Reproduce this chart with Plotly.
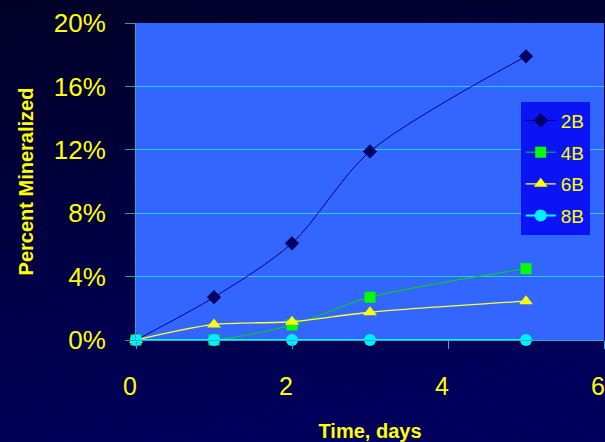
import base64
import plotly.graph_objects as go

days = [0, 1, 2, 3, 5]
series_names = ["2B", "4B", "6B", "8B"]
min_2b = [0.0, 0.027, 0.061, 0.119, 0.179]
min_4b = [0.0, 0.0, 0.0095, 0.027, 0.045]
min_6b = [0.0, 0.0098, 0.0115, 0.0175, 0.0245]
min_8b = [0.0, 0.0, 0.0, 0.0, 0.0]
y_ticks = [0, 0.04, 0.08, 0.12, 0.16, 0.20]

W, H = 605, 442
L, R, T, B = 136, 1, 23, 102
pw, ph = W - L - R, H - T - B

# dark gradient backdrop with faint diagonal hatching, plus the blue plot area
bg_svg = f"""<svg xmlns='http://www.w3.org/2000/svg' width='{W}' height='{H}'>
<defs>
<linearGradient id='g' x1='0' y1='0' x2='0.25' y2='1'>
<stop offset='0' stop-color='#000026'/><stop offset='1' stop-color='#00005c'/>
</linearGradient>
<pattern id='p' width='16' height='16' patternUnits='userSpaceOnUse' patternTransform='rotate(-35)'>
<line x1='0' y1='0' x2='16' y2='0' stroke='#000020' stroke-width='1' stroke-opacity='0.45'/>
</pattern>
</defs>
<rect width='{W}' height='{H}' fill='url(#g)'/>
<rect width='{W}' height='{H}' fill='url(#p)'/>
<rect x='{L}' y='{T}' width='{pw}' height='{ph}' fill='#3366ff'/>
</svg>"""
bg_uri = "data:image/svg+xml;base64," + base64.b64encode(bg_svg.encode()).decode()

styles = [
    dict(line=dict(color="#000080", width=1), marker=dict(symbol="diamond", size=11, color="#000066")),
    dict(line=dict(color="#00dd00", width=1), marker=dict(symbol="square", size=11, color="#00ff00")),
    dict(line=dict(color="#ffff33", width=1.3), marker=dict(symbol="triangle-up", size=12, color="#ffff00")),
    dict(line=dict(color="#00ffff", width=2), marker=dict(symbol="circle", size=12, color="#00f0ff")),
]

fig = go.Figure()
for name, vals, st in zip(series_names, [min_2b, min_4b, min_6b, min_8b], styles):
    fig.add_trace(go.Scatter(
        x=days, y=vals, name=name, mode="lines+markers",
        line=dict(shape="spline", smoothing=0.8, **st["line"]),
        marker=st["marker"], cliponaxis=False, legendgroup=name,
    ))

yellow = "#ffff00"
fig.update_layout(
    width=W, height=H,
    margin=dict(l=L, r=R, t=T, b=B),
    paper_bgcolor="#00003e",
    plot_bgcolor="#3366ff",
    font=dict(family="Liberation Sans, Arial", color=yellow),
    showlegend=True,
    images=[dict(
        source=bg_uri, xref="paper", yref="paper",
        x=-L / pw, y=1 + T / ph, sizex=W / pw, sizey=H / ph,
        xanchor="left", yanchor="top", sizing="stretch", layer="below",
    )],
    legend=dict(
        x=0.822, y=0.752, xanchor="left", yanchor="top",
        bgcolor="#0a14f5", font=dict(size=19, color=yellow),
        tracegroupgap=4, itemwidth=30,
    ),
    xaxis=dict(
        range=[0, 6], dtick=2, tick0=0,
        showgrid=False, zeroline=False,
        showline=True, linecolor="#33aacc", linewidth=1,
        ticks="outside", ticklen=8, tickcolor="#33aacc",
        tickfont=dict(size=25, color=yellow), ticklabelstandoff=16, ticklabelshift=-6,
        title=dict(text="<b>Time, days</b>", font=dict(size=20, color=yellow), standoff=26),
    ),
    yaxis=dict(
        range=[0, 0.2], tickvals=y_ticks, tickformat=".0%",
        showgrid=True, gridcolor="#22ccff", gridwidth=1, zeroline=False,
        showline=True, linecolor="#33aacc", linewidth=1,
        ticks="outside", ticklen=10, tickcolor="#339999",
        tickfont=dict(size=26, color=yellow), ticklabelstandoff=14,
        title=dict(text="<b>Percent Mineralized</b>", font=dict(size=20, color=yellow), standoff=14),
    ),
)

fig.write_html("out.html", config={"displayModeBar": False},
               post_script="document.body.style.margin='0';")
